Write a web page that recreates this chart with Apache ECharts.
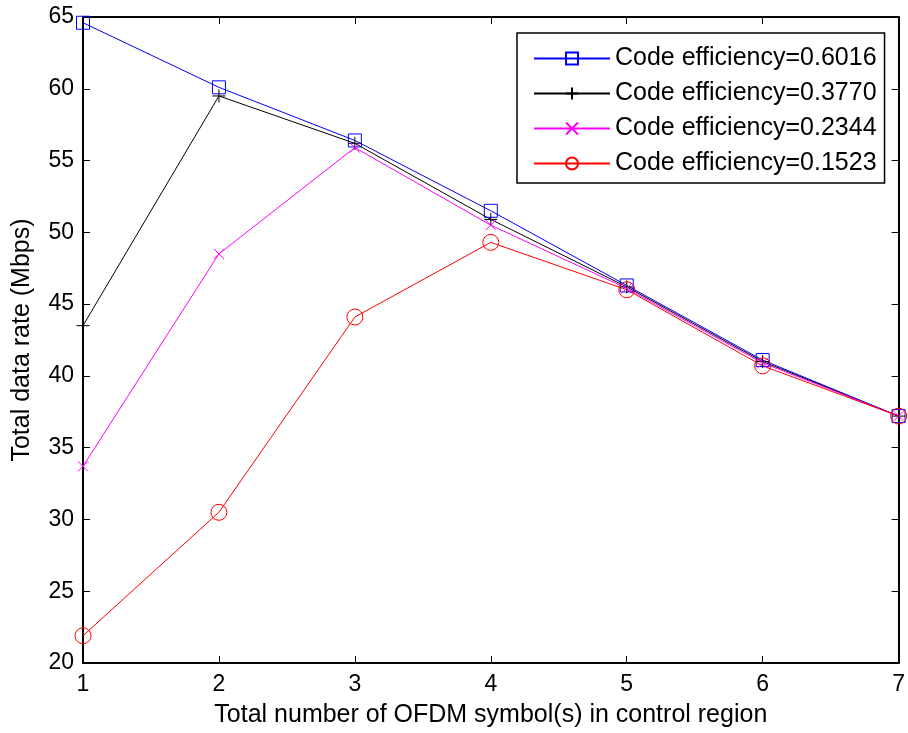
<!DOCTYPE html>
<html>
<head>
<meta charset="utf-8">
<script src="https://cdn.jsdelivr.net/npm/echarts@6/dist/echarts.min.js"></script>
<style>
    html, body { margin: 0; padding: 0; background: #fff; }
    #main { width: 908px; height: 733px; }
</style>
</head>
<body>
<div id="main"></div>
<script>
// 数据
var symbols = [1, 2, 3, 4, 5, 6, 7];
var rate6016 = [64.6, 60.1, 56.4, 51.5, 46.3, 41.1, 37.2];
var rate3770 = [43.5, 59.5, 56.2, 50.9, 46.2, 41.0, 37.2];
var rate2344 = [33.7, 48.5, 55.9, 50.5, 46.1, 40.9, 37.2];
var rate1523 = [21.9, 30.5, 44.1, 49.3, 46.0, 40.7, 37.2];
var names = ['Code efficiency=0.6016', 'Code efficiency=0.3770', 'Code efficiency=0.2344', 'Code efficiency=0.1523'];

function pairs(ys) {
    return symbols.map(function (x, i) { return [x, ys[i]]; });
}

var font = 'Liberation Sans, Arial, sans-serif';

function makeSeries(name, ys, color, symbol, size) {
    return {
        name: name,
        type: 'line',
        data: pairs(ys),
        symbol: symbol,
        symbolSize: size,
        showAllSymbol: true,
        clip: false,
        lineStyle: { color: color, width: 1 },
        itemStyle: { color: 'transparent', borderColor: color, borderWidth: 1 },
        emphasis: { disabled: true },
        animation: false
    };
}

var myChart = echarts.init(document.getElementById('main'));

var axisLine = { show: true, lineStyle: { color: '#000', width: 2 } };
var axisTick = { show: true, inside: true, length: 7, lineStyle: { color: '#000', width: 1 } };

var option = {
    backgroundColor: '#fff',
    animation: false,
    grid: { left: 83, right: 5, top: 17, bottom: 70 },
    legend: {
        orient: 'vertical',
        left: 517,
        top: 33,
        padding: [13, 8, 7, 16],
        itemGap: 10,
        itemWidth: 76,
        itemHeight: 15,
        backgroundColor: '#fff',
        borderColor: '#000',
        borderWidth: 1.5,
        borderRadius: 0,
        textStyle: { fontFamily: font, fontSize: 25, color: '#000' },
        data: names
    },
    xAxis: [{
        type: 'value', min: 1, max: 7, interval: 1,
        name: 'Total number of OFDM symbol(s) in control region',
        nameLocation: 'middle', nameGap: 40,
        nameTextStyle: { fontFamily: font, fontSize: 25, color: '#000' },
        axisLine: axisLine, axisTick: axisTick,
        axisLabel: { fontFamily: font, fontSize: 23, color: '#000', margin: 10 },
        splitLine: { show: false }
    }, {
        type: 'value', min: 1, max: 7, interval: 1, position: 'top',
        axisLine: axisLine, axisTick: axisTick,
        axisLabel: { show: false }, splitLine: { show: false }
    }],
    yAxis: [{
        type: 'value', min: 20, max: 65, interval: 5,
        name: 'Total data rate (Mbps)',
        nameLocation: 'middle', nameGap: 48,
        nameTextStyle: { fontFamily: font, fontSize: 25, color: '#000' },
        axisLine: axisLine, axisTick: axisTick,
        axisLabel: { fontFamily: font, fontSize: 23, color: '#000', margin: 9 },
        splitLine: { show: false }
    }, {
        type: 'value', min: 20, max: 65, interval: 5, position: 'right',
        axisLine: axisLine, axisTick: axisTick,
        axisLabel: { show: false }, splitLine: { show: false }
    }],
    series: [
        makeSeries(names[0], rate6016, '#0000ff', 'rect', 13),
        makeSeries(names[1], rate3770, '#000000', 'path://M5,0L5,10M0,5L10,5', 13),
        makeSeries(names[2], rate2344, '#ff00ff', 'path://M0,0L10,10M0,10L10,0', 10),
        makeSeries(names[3], rate1523, '#ff0000', 'circle', 16)
    ]
};

myChart.setOption(option);
</script>
</body>
</html>
